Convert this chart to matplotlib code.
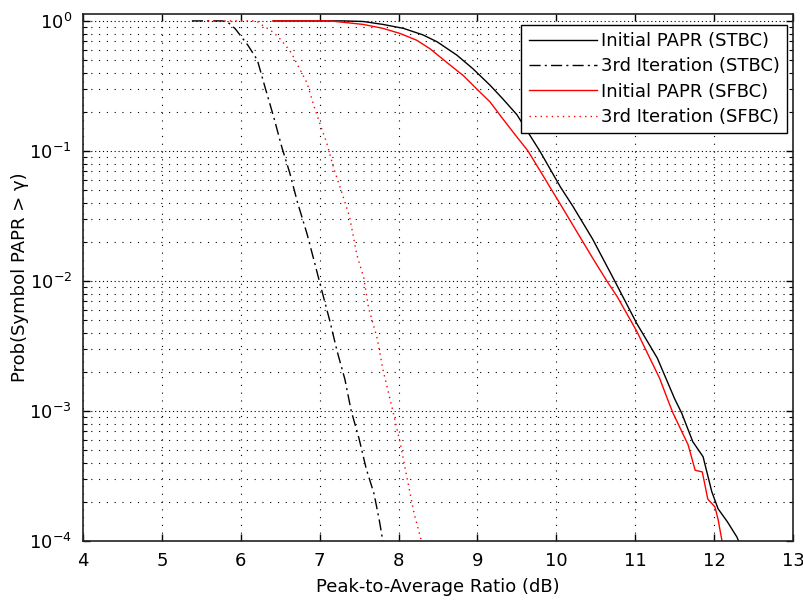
import numpy as np
import matplotlib
matplotlib.use("Agg")
import matplotlib.pyplot as plt
from matplotlib.ticker import LogLocator, NullFormatter, FixedLocator

plt.rcParams['font.family'] = ['DejaVu Sans']

# Initial PAPR (STBC)
x_init_stbc = [6.41, 7.30, 7.55, 7.80, 8.06, 8.31, 8.49, 8.74, 8.94, 9.16, 9.32, 9.50, 9.79,
               10.05, 10.21, 10.46, 10.74, 11.02, 11.28, 11.50, 11.59, 11.73, 11.86, 11.97,
               12.05, 12.17, 12.29, 12.31]
p_init_stbc = [1.0, 1.0, 0.99, 0.94, 0.877, 0.78, 0.69, 0.545, 0.43, 0.32, 0.252, 0.19, 0.10,
               0.053, 0.0375, 0.021, 0.010, 4.7e-3, 2.55e-3, 1.24e-3, 9.6e-4, 5.8e-4, 4.45e-4, 2.4e-4,
               1.77e-4, 1.4e-4, 1.07e-4, 1.0e-4]

# 3rd Iteration (STBC)
x_it3_stbc = [5.38, 5.77, 5.85, 5.93, 6.09, 6.21, 6.31, 6.42, 6.52, 6.62, 6.72, 6.84, 6.94, 7.03,
              7.13, 7.22, 7.32, 7.40, 7.50, 7.59, 7.69, 7.76, 7.80]
p_it3_stbc = [1.0, 1.0, 0.96, 0.87, 0.65, 0.50, 0.305, 0.18, 0.107, 0.068, 0.040, 0.023, 0.0135, 8.3e-3,
              4.9e-3, 2.9e-3, 1.75e-3, 1.0e-3, 6.1e-4, 3.6e-4, 2.3e-4, 1.4e-4, 1.0e-4]

# Initial PAPR (SFBC)
x_init_sfbc = [6.41, 7.13, 7.55, 7.80, 8.02, 8.23, 8.40, 8.61, 8.82, 8.99, 9.16, 9.32, 9.50, 9.64,
               9.79, 10.05, 10.46, 10.64, 10.77, 11.02, 11.31, 11.41, 11.48, 11.67, 11.76, 11.85,
               11.92, 12.01, 12.05, 12.10]
p_init_sfbc = [1.0, 1.0, 0.94, 0.877, 0.80, 0.71, 0.61, 0.48, 0.38, 0.30, 0.238, 0.177, 0.128, 0.10,
               0.071, 0.039, 0.015, 0.010, 7.6e-3, 4.1e-3, 1.78e-3, 1.23e-3, 9.6e-4, 5.5e-4, 3.5e-4, 3.4e-4,
               2.1e-4, 1.83e-4, 1.47e-4, 1.0e-4]

# 3rd Iteration (SFBC)
x_it3_sfbc = [5.58, 6.20, 6.28, 6.38, 6.47, 6.56, 6.64, 6.74, 6.84, 6.93, 7.00, 7.09, 7.18, 7.28,
              7.38, 7.47, 7.56, 7.62, 7.73, 7.80, 7.92, 8.02, 8.11, 8.20, 8.29]
p_it3_sfbc = [1.0, 1.0, 0.92, 0.845, 0.76, 0.656, 0.57, 0.435, 0.333, 0.219, 0.164, 0.115, 0.073, 0.048,
              0.031, 0.016, 0.0105, 6.2e-3, 3.6e-3, 2.1e-3, 1.05e-3, 5.7e-4, 3.0e-4, 1.6e-4, 1.0e-4]

labels = ['Initial PAPR (STBC)', '3rd Iteration (STBC)', 'Initial PAPR (SFBC)', '3rd Iteration (SFBC)']
xticks = [4, 5, 6, 7, 8, 9, 10, 11, 12, 13]

FS = 13

fig = plt.figure(figsize=(8.04, 6.01), dpi=100)
ax = fig.add_axes([83/804, 1-541/601, 710/804, 527/601])

ax.set_yscale('log')
ax.set_xlim(4, 13)
ax.set_ylim(1e-4, 1.13)

# grid
dot = (0, (1, 6))
for xv in xticks:
    ax.axvline(xv, color='k', lw=0.8, linestyle=dot, zorder=0)
for d in range(-4, 1):
    ax.axhline(10.0**d, color='k', lw=0.8, linestyle=(0, (1, 2.5)), zorder=0)
    if d < 0:
        for m in range(2, 10):
            ax.axhline(m*10.0**d, color='k', lw=0.8, linestyle=dot, zorder=0)

ax.plot(x_init_stbc, p_init_stbc, color='black', lw=1.0, label=labels[0])
ax.plot(x_it3_stbc, p_it3_stbc, color='black', lw=1.0, linestyle=(0, (8, 3, 1.5, 3)), label=labels[1])
ax.plot(x_init_sfbc, p_init_sfbc, color='#ff0000', lw=1.0, label=labels[2])
ax.plot(x_it3_sfbc, p_it3_sfbc, color='#ff0000', lw=1.0, linestyle=(0, (1, 3)), label=labels[3])

ax.xaxis.set_major_locator(FixedLocator(xticks))
ax.yaxis.set_major_locator(LogLocator(base=10, numticks=10))
ax.yaxis.set_minor_locator(LogLocator(base=10, subs=np.arange(2, 10), numticks=20))
ax.yaxis.set_minor_formatter(NullFormatter())
ax.tick_params(which='both', direction='in', top=True, right=True, labelsize=FS, colors='k')
ax.tick_params(which='major', length=5, width=1)
ax.tick_params(which='minor', length=3, width=0.8)
ax.tick_params(axis='x', which='major', pad=8)
ax.tick_params(axis='y', which='major', pad=8)
for s in ax.spines.values():
    s.set_linewidth(1.2)
    s.set_color('#222222')

ax.set_xlabel('Peak-to-Average Ratio (dB)', fontsize=FS, labelpad=6)
ax.set_ylabel('Prob(Symbol PAPR > γ)', fontsize=FS, labelpad=0)

leg = ax.legend(loc='upper right', bbox_to_anchor=(787/804, 1-25/601),
                bbox_transform=fig.transFigure, fontsize=FS, fancybox=False,
                edgecolor='black', framealpha=1, handlelength=3.8, borderaxespad=0,
                labelspacing=0.4, handletextpad=0.2, borderpad=0.4)
leg.get_frame().set_linewidth(1.0)

fig.savefig('out.png', dpi=100)
